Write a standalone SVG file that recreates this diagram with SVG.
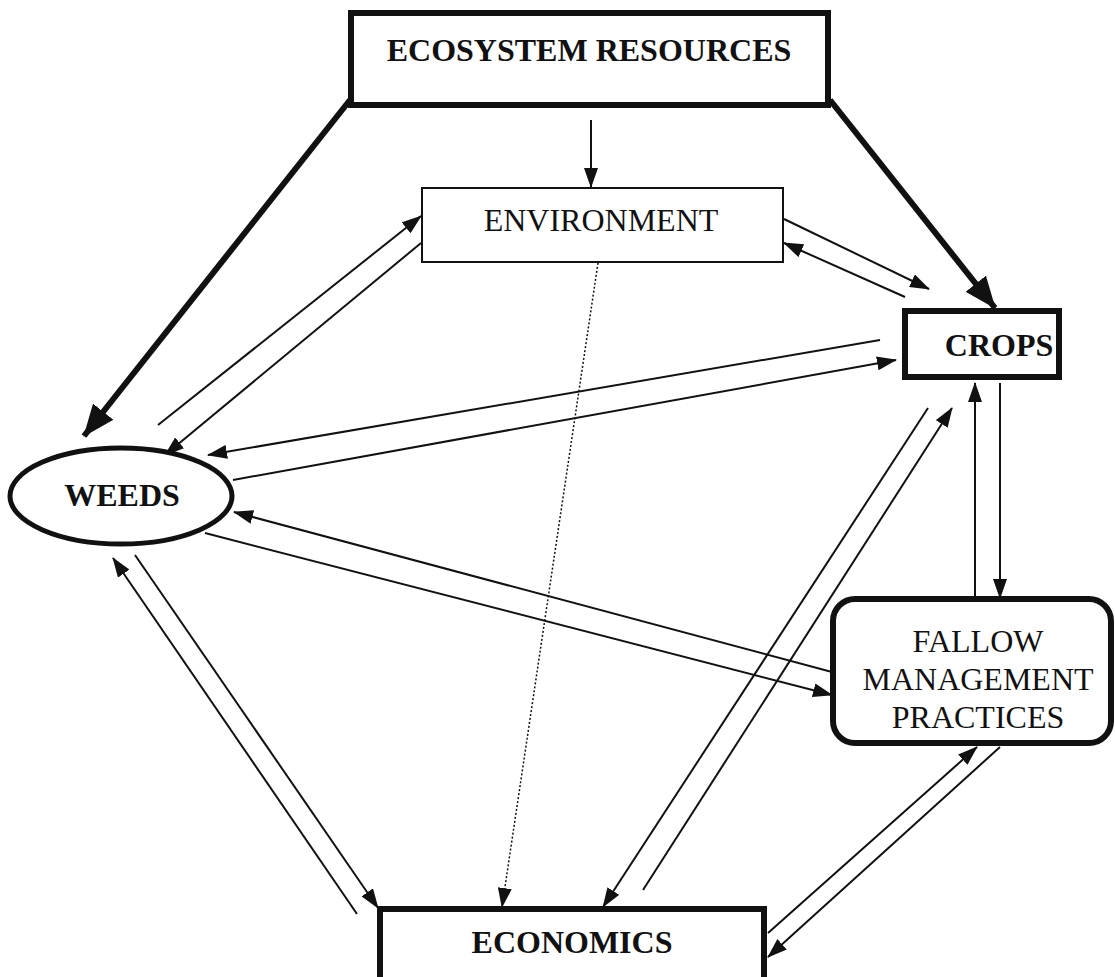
<svg xmlns="http://www.w3.org/2000/svg" width="1115" height="977" viewBox="0 0 1115 977">
<defs>
<style>
.box{fill:#fff;stroke:#111;}
.thick{stroke-width:6;}
.thin{stroke-width:2;}
.lbl{font-family:"Liberation Serif","Times New Roman",serif;font-size:32px;fill:#111;text-anchor:middle;}
.b{font-weight:bold;}
.c{stroke:#111;stroke-width:2;fill:none;}
.cb{stroke:#111;stroke-width:6;fill:none;}
.dot{stroke:#111;stroke-width:1.5;fill:none;stroke-dasharray:2 2;}
</style>
<marker id="ah" markerUnits="userSpaceOnUse" markerWidth="20" markerHeight="14" refX="19" refY="7" orient="auto"><path d="M0,0 L20,7 L0,14 z" fill="#111"/></marker>
<marker id="ahb" markerUnits="userSpaceOnUse" markerWidth="32" markerHeight="26" refX="31" refY="13" orient="auto"><path d="M0,0 L32,13 L0,26 z" fill="#111"/></marker>
</defs>
<rect width="1115" height="977" fill="#fff"/>
<g id="connectors">
<line class="cb" x1="350" y1="100" x2="84" y2="436" marker-end="url(#ahb)"/>
<line class="cb" x1="830" y1="100" x2="995" y2="308" marker-end="url(#ahb)"/>
<line class="c" x1="591" y1="120" x2="591" y2="187" marker-end="url(#ah)"/>
<line class="c" x1="158" y1="425" x2="421" y2="216" marker-end="url(#ah)"/>
<line class="c" x1="421" y1="243" x2="165" y2="455" marker-end="url(#ah)"/>
<line class="c" x1="784" y1="219" x2="929" y2="289" marker-end="url(#ah)"/>
<line class="c" x1="905" y1="297" x2="784" y2="243" marker-end="url(#ah)"/>
<line class="c" x1="880" y1="340" x2="208" y2="455" marker-end="url(#ah)"/>
<line class="c" x1="233" y1="480" x2="896" y2="360" marker-end="url(#ah)"/>
<line class="c" x1="832" y1="672" x2="234" y2="512" marker-end="url(#ah)"/>
<line class="c" x1="205" y1="533" x2="832" y2="695" marker-end="url(#ah)"/>
<line class="c" x1="975" y1="598" x2="975" y2="383" marker-end="url(#ah)"/>
<line class="c" x1="1000" y1="383" x2="1000" y2="598" marker-end="url(#ah)"/>
<line class="c" x1="928" y1="408" x2="603" y2="907" marker-end="url(#ah)"/>
<line class="c" x1="643" y1="890" x2="952" y2="408" marker-end="url(#ah)"/>
<line class="dot" x1="598" y1="263" x2="502" y2="907" marker-end="url(#ah)"/>
<line class="c" x1="357" y1="914" x2="113" y2="558" marker-end="url(#ah)"/>
<line class="c" x1="135" y1="555" x2="378" y2="908" marker-end="url(#ah)"/>
<line class="c" x1="768" y1="933" x2="977" y2="747" marker-end="url(#ah)"/>
<line class="c" x1="1000" y1="747" x2="768" y2="957" marker-end="url(#ah)"/>
</g>
<g id="ecosystem">
<rect class="box thick" x="351" y="13" width="477" height="92"/>
<text class="lbl b" x="589" y="61" font-size="34">ECOSYSTEM RESOURCES</text>
</g>
<g id="environment">
<rect class="box thin" x="422" y="188" width="361" height="74"/>
<text class="lbl" x="601" y="231">ENVIRONMENT</text>
</g>
<g id="crops">
<rect class="box thick" x="905" y="311" width="154" height="66"/>
<text class="lbl b" x="999" y="356">CROPS</text>
</g>
<g id="weeds">
<ellipse class="box" stroke-width="5" cx="121" cy="496" rx="111" ry="48"/>
<text class="lbl b" x="122" y="506" font-size="33">WEEDS</text>
</g>
<g id="fallow">
<rect class="box thick" x="833" y="599" width="278" height="144" rx="22"/>
<text class="lbl" x="978" y="652">FALLOW</text>
<text class="lbl" x="978" y="690">MANAGEMENT</text>
<text class="lbl" x="978" y="728">PRACTICES</text>
</g>
<g id="economics">
<rect class="box thick" x="380" y="909" width="384" height="80"/>
<text class="lbl b" x="572" y="953">ECONOMICS</text>
</g>
</svg>
